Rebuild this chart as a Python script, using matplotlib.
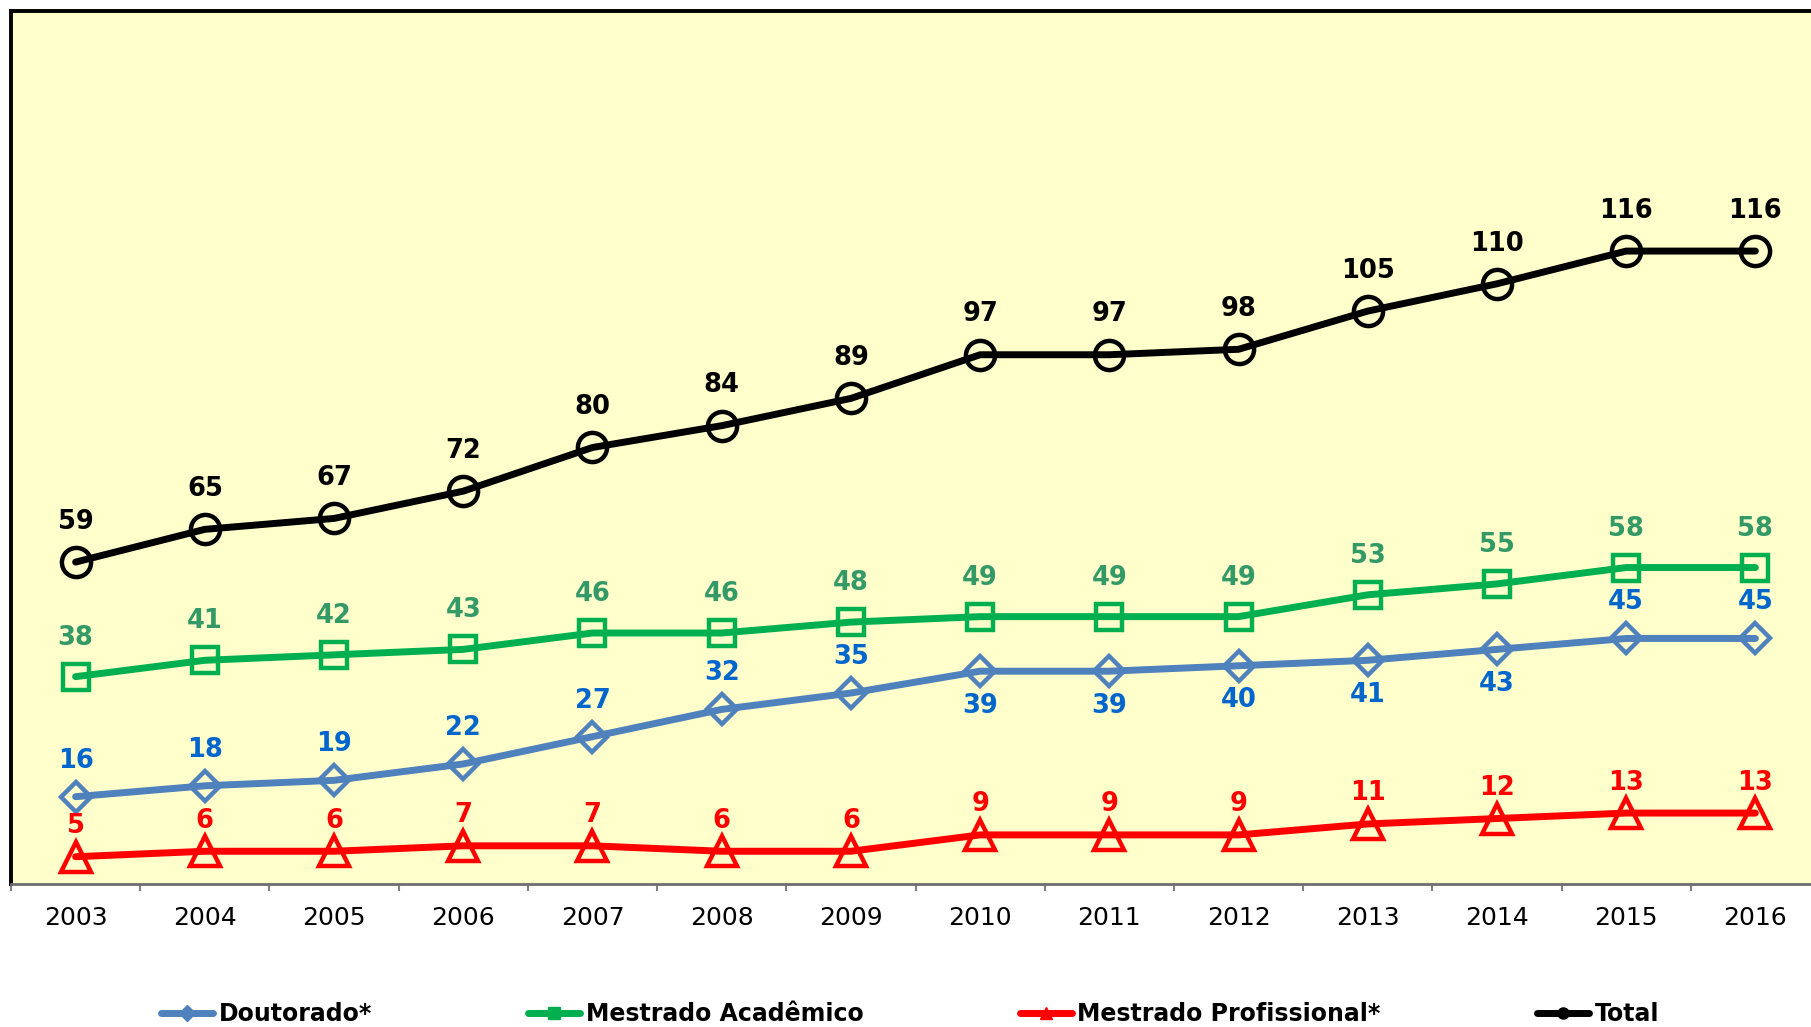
import matplotlib
matplotlib.use("Agg")
import matplotlib.pyplot as plt
from matplotlib.lines import Line2D

years = ["2003", "2004", "2005", "2006", "2007", "2008", "2009",
         "2010", "2011", "2012", "2013", "2014", "2015", "2016"]
doutorado = [16, 18, 19, 22, 27, 32, 35, 39, 39, 40, 41, 43, 45, 45]
mestrado_acad = [38, 41, 42, 43, 46, 46, 48, 49, 49, 49, 53, 55, 58, 58]
mestrado_prof = [5, 6, 6, 7, 7, 6, 6, 9, 9, 9, 11, 12, 13, 13]
total = [59, 65, 67, 72, 80, 84, 89, 97, 97, 98, 105, 110, 116, 116]
# labels of Doutorado placed below the point for these years
dout_below = ["2010", "2011", "2012", "2013", "2014"]

series_names = ["Doutorado*", "Mestrado Acadêmico", "Mestrado Profissional*", "Total"]

W, H = 1811, 1027
fig = plt.figure(figsize=(W / 100, H / 100), dpi=100)
ax = fig.add_axes([11 / W, 143 / H, (1820 - 11) / W, (884 - 11) / H])
ax.set_facecolor("#FFFFCC")

x = list(range(len(years)))

specs = [
    (doutorado, "#4F81BD", "#0066CC", "D", 15, 26),
    (mestrado_acad, "#00B050", "#339966", "s", 19, 28),
    (mestrado_prof, "#FF0000", "#FF0000", "^", 21, 22),
    (total, "#000000", "#000000", "o", 21, 29),
]

for (vals, lc, tc, mk, ms, off) in specs:
    ax.plot(x, vals, color=lc, lw=5, marker=mk, ms=ms, mfc="none",
            mec=lc, mew=3.2, zorder=3, solid_capstyle="round")
    for xi, (yr, v) in enumerate(zip(years, vals)):
        dy = off
        if vals is doutorado and yr in dout_below:
            dy = -25
        ax.annotate(str(v), (xi, v), xytext=(0, dy), textcoords="offset points",
                    ha="center", va="center", color=tc, fontsize=18.5,
                    fontweight="bold", zorder=4)

ax.set_xlim(-0.5, len(years) - 0.5)
ax.set_ylim(0, 160)
ax.set_yticks([])
ax.set_xticks(x)
ax.set_xticklabels(years, fontsize=18)
ax.set_xticks([i - 0.5 for i in range(len(years) + 1)], minor=True)
ax.tick_params(axis="x", which="major", length=0, pad=16)
ax.tick_params(axis="x", which="minor", length=5, width=1.5, color="#808080")

for s in ["top", "left"]:
    ax.spines[s].set_color("black")
    ax.spines[s].set_linewidth(2.8)
ax.spines["bottom"].set_color("#6E6E6E")
ax.spines["bottom"].set_linewidth(2)
ax.spines["right"].set_visible(False)

handles = []
for (vals, lc, tc, mk, ms, off), name in zip(specs, series_names):
    handles.append(Line2D([0], [0], color=lc, lw=5, marker=mk, ms=8,
                          mfc=lc, mec=lc, solid_capstyle="round", label=name))

fig.legend(handles=handles, loc="center", bbox_to_anchor=(0.5025, 0.0127),
           ncol=4, frameon=False, prop={"size": 17, "weight": "bold"},
           handlelength=2.2, handletextpad=0.25, columnspacing=6.6,
           borderpad=0, borderaxespad=0)

fig.savefig("out.png", dpi=100, facecolor="white")
